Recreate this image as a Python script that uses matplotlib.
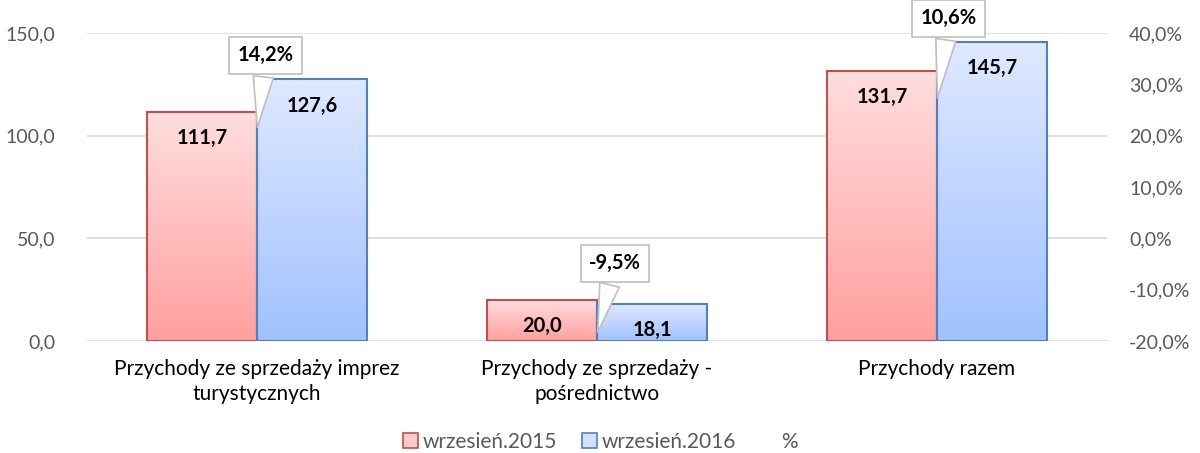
import numpy as np
import matplotlib.pyplot as plt
from matplotlib.patches import Rectangle, Patch
from matplotlib.lines import Line2D
from matplotlib.colors import LinearSegmentedColormap
from matplotlib.ticker import FuncFormatter

plt.rcParams['font.family'] = ['Lato', 'DejaVu Sans']

# data
categories = ['Przychody ze sprzedaży imprez\nturystycznych',
              'Przychody ze sprzedaży -\npośrednictwo',
              'Przychody razem']
series_names = ['wrzesień.2015', 'wrzesień.2016', '%']
vals_2015 = [111.7, 20.0, 131.7]
vals_2016 = [127.6, 18.1, 145.7]
pct_change = [14.2, -9.5, 10.6]

# callout positions (tip y and box centre) in primary-axis units
tip_y = [102.7, 3.0, 117.0]
box_dx = [0.026, 0.053, 0.035]
box_y = [139.3, 38.0, 157.3]

def fmt(v, dec=1):
    return f'{v:.{dec}f}'.replace('.', ',')

fig = plt.figure(figsize=(12, 4.53), dpi=100)
ax = fig.add_axes([0.0725, 0.247, 0.85, 0.68])
ax2 = ax.twinx()

w = 0.3235
x = np.arange(len(categories))
red_cm = LinearSegmentedColormap.from_list('r', ['#FF9F9F', '#FFDEDE'])
blue_cm = LinearSegmentedColormap.from_list('b', ['#A0C1FF', '#DFE9FF'])
grad = np.linspace(0, 1, 256).reshape(-1, 1)

for vals, off, cm, ec in [(vals_2015, -w / 2, red_cm, '#C0504D'),
                          (vals_2016, w / 2, blue_cm, '#4F81BD')]:
    for xi, v in zip(x, vals):
        x0 = xi + off - w / 2
        ax.imshow(grad, extent=[x0, x0 + w, 0, v], origin='lower', aspect='auto',
                  cmap=cm, zorder=2)
        ax.add_patch(Rectangle((x0, 0), w, v, fill=False, ec=ec, lw=1.5, zorder=3))
        ax.text(xi + off, v - 8, fmt(v), ha='center', va='top', fontsize=14.5,
                fontweight='bold', color='black', zorder=4)

for xi, p, ty, dx, by in zip(x, pct_change, tip_y, box_dx, box_y):
    ax.annotate(fmt(p) + '%', xy=(xi, ty), xytext=(xi + dx, by),
                ha='center', va='center', fontsize=14.5, fontweight='bold',
                annotation_clip=False, zorder=6,
                bbox=dict(boxstyle='square,pad=0.42', fc='white', ec='#BFBFBF', lw=1.2),
                arrowprops=dict(arrowstyle='wedge,tail_width=1.0,shrink_factor=0.5',
                                fc='white', ec='#BFBFBF', lw=1.2))

ax.set_xlim(-0.5, 2.5)
ax.set_ylim(0, 150)
ax.set_yticks([0, 50, 100, 150])
ax.yaxis.set_major_formatter(FuncFormatter(lambda v, p: fmt(v)))
ax.grid(axis='y', color='#D9D9D9', lw=1.2, zorder=0)
ax.set_axisbelow(True)
ax.set_xticks(x)
ax.set_xticklabels(categories, fontsize=15, color='#000000', linespacing=1.3)
ax.tick_params(axis='x', length=0, pad=13)
ax.tick_params(axis='y', length=0, labelsize=14, labelcolor='#595959', pad=23)

ax2.set_ylim(-20, 40)
ax2.set_yticks(np.arange(-20, 41, 10))
ax2.yaxis.set_major_formatter(FuncFormatter(lambda v, p: fmt(v) + '%'))
ax2.tick_params(axis='y', length=0, labelsize=14, labelcolor='#595959', pad=16)

for a in (ax, ax2):
    for s in a.spines.values():
        s.set_visible(False)

handles = [Patch(fc='#FFC9C9', ec='#C0504D', lw=1.2),
           Patch(fc='#D2E1FF', ec='#4F81BD', lw=1.2),
           Line2D([], [], color='none')]
fig.legend(handles, series_names, loc='center', bbox_to_anchor=(0.5, 0.025), ncol=3,
           frameon=False, fontsize=15, labelcolor='#595959', handlelength=0.75,
           handleheight=0.75, handletextpad=0.2, columnspacing=1.2)

fig.savefig('out.png', dpi=100)
